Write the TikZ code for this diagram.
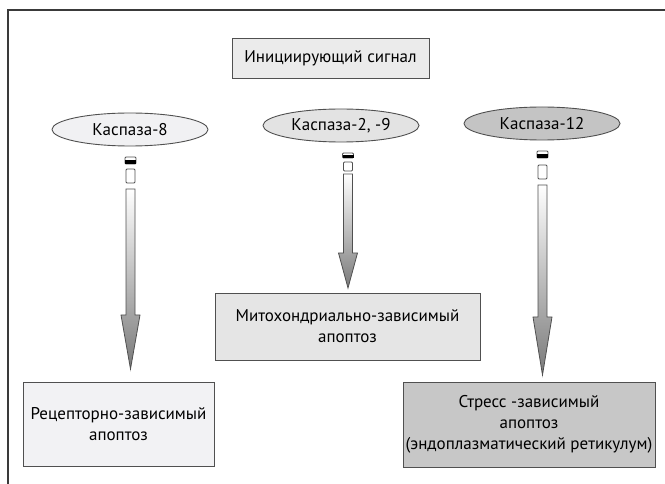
\documentclass[tikz,border=0pt]{standalone}
\usepackage{fontspec}
\setmainfont{PT Sans}
\usetikzlibrary{shapes.geometric}
\definecolor{boxline}{HTML}{505050}
\definecolor{frameline}{HTML}{3A3A3A}
\definecolor{topfill}{HTML}{EBEBEB}
\definecolor{efirst}{HTML}{F1F1F3}
\definecolor{esecond}{HTML}{E3E3E3}
\definecolor{ethird}{HTML}{C4C4C4}
\definecolor{mitofill}{HTML}{E5E5E5}
\definecolor{blfill}{HTML}{F2F2F4}
\definecolor{brfill}{HTML}{C7C7C7}
\definecolor{arrowgray}{HTML}{7A7A7A}
\newcommand\caspArrow[8]{%
  \draw[boxline, fill=white, line width=0.8pt, rounded corners=1pt] ({#1-5.5},#2) rectangle ({#1+5.5},#3);
  \fill[black] ({#1-5.5},{(#2+#3)/2}) rectangle ({#1+5.5},#3);
  \draw[boxline, fill=white, line width=0.8pt, rounded corners=1pt] ({#1-4.5},#4) rectangle ({#1+4.5},#5);
  \shade[top color=white, bottom color=arrowgray, draw=boxline, line width=0.8pt]
    ({#1-4.5},#6) -- ({#1+4.5},#6) -- ({#1+4.5},#7) -- ({#1+9.5},#7) -- (#1,#8)
    -- ({#1-9.5},#7) -- ({#1-4.5},#7) -- cycle;
}
\begin{document}
\begin{tikzpicture}[x=1pt,y=-1pt,
  font=\fontsize{17}{21}\selectfont,
  box/.style={draw=boxline, line width=0.9pt, align=center, inner sep=0pt},
  ell/.style={ellipse, draw=boxline, line width=0.9pt, minimum width=156pt,
    minimum height=33pt, inner sep=0pt}]
\useasboundingbox (0,0) rectangle (665,484);
\draw[frameline, line width=1.4pt] (8,484) -- (8,10) -- (665,10);

\node[box, fill=topfill, minimum width=197pt, minimum height=40pt] (signal) at (330.5,58) {Инициирующий сигнал};

\node[ell, fill=efirst] (c8) at (130,129.5) {Каспаза-8};
\node[ell, fill=esecond] (c29) at (341,125.5) {Каспаза-2, -9};
\node[ell, fill=ethird] (c12) at (542,123.5) {Каспаза-12};

\caspArrow{130.5}{157}{164}{169}{183}{189}{315}{369}
\caspArrow{348}{153}{158}{162}{171}{174}{253}{288}
\caspArrow{542.5}{151}{158}{165}{179}{185}{317}{375}

\node[box, fill=mitofill, minimum width=265pt, minimum height=67pt] (mito) at (347.5,326.5) {Митохондриально-зависимый\\апоптоз};
\node[box, fill=blfill, minimum width=191pt, minimum height=84pt] (recep) at (118.5,424) {Рецепторно-зависимый\\апоптоз};
\node[box, fill=brfill, minimum width=252pt, minimum height=85pt] (stress) at (529,424.5) {Стресс -зависимый\\апоптоз\\(эндоплазматический ретикулум)};
\end{tikzpicture}
\end{document}
